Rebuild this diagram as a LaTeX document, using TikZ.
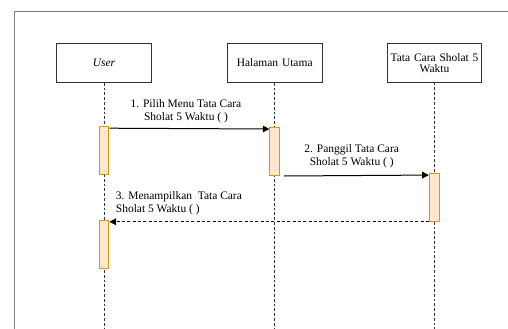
\documentclass[tikz,border=0pt]{standalone}
\usepackage{fontspec}
\setmainfont{Liberation Serif}
\usetikzlibrary{arrows.meta}

\definecolor{framegray}{HTML}{808080}
\definecolor{boxline}{HTML}{333333}
\definecolor{actfill}{HTML}{FFE6CC}
\definecolor{actline}{HTML}{D79B00}

\tikzset{
  txt/.style={font=\fontsize{8.6}{9.6}\selectfont},
  actor/.style={draw=boxline, line width=0.75pt, minimum width=71pt, minimum height=29pt,
    inner sep=1pt, align=center, font=\fontsize{8.6}{8.2}\selectfont, text width=68pt},
  lifeline/.style={draw=boxline, line width=0.6pt, dash pattern=on 2pt off 1.6pt},
  activation/.style={draw=actline, fill=actfill, line width=0.75pt, minimum width=7.3pt,
    minimum height=36pt, inner sep=0pt},
  msg/.style={draw=black, line width=0.75pt, -{Triangle[length=5pt,width=5pt]}},
  reply/.style={msg, dash pattern=on 2.2pt off 1.8pt},
  lbl/.style={txt, inner sep=0pt, align=center}
}

\begin{document}
\begin{tikzpicture}[x=0.75pt, y=-0.75pt]
  \useasboundingbox (0,0) rectangle (508,329);

  % outer frame (top and left edges)
  \draw[framegray, line width=0.9pt] (14.3,329) -- (14.3,11.7) -- (508,11.7);

  % participants
  \node[actor] (user) at (104,63) {\itshape User};
  \node[actor] (hal)  at (274.7,63) {Halaman Utama};
  \node[actor] (tata) at (434.5,62.8) {Tata Cara Sholat 5\\Waktu};

  % lifeline ends
  \coordinate (userEnd) at (104,329);
  \coordinate (halEnd)  at (274.7,329);
  \coordinate (tataEnd) at (434.5,329);

  \draw[lifeline] (user.south) -- (userEnd);
  \draw[lifeline] (hal.south)  -- (halEnd);
  \draw[lifeline] (tata.south) -- (tataEnd);

  % activation bars
  \node[activation] (u1) at (104,150.7) {};
  \node[activation] (h1) at (274.8,151.5) {};
  \node[activation] (t1) at (434.2,197.3) {};
  \node[activation] (u2) at (104,244.5) {};

  % messages
  \draw[msg] ([yshift=-1.5pt]u1.north east) -- ([yshift=-1.5pt]h1.north west);
  \draw[msg] ([xshift=2.7pt]h1.south east) -- ([yshift=-1.7pt]t1.north west);
  \draw[reply] (t1.south west) -- (t1.south west -| u2.east);

  % message labels
  \node[lbl] (l1) at (186,111.5) {1. Pilih Menu Tata Cara\\Sholat 5 Waktu ( )};
  \node[lbl] (l2) at (351.7,156.5) {2. Panggil Tata Cara\\Sholat 5 Waktu ( )};
  \node[lbl, align=left, anchor=west] (l3) at (115.7,203) {3. Menampilkan~ Tata Cara\\Sholat 5 Waktu ( )};
\end{tikzpicture}
\end{document}
